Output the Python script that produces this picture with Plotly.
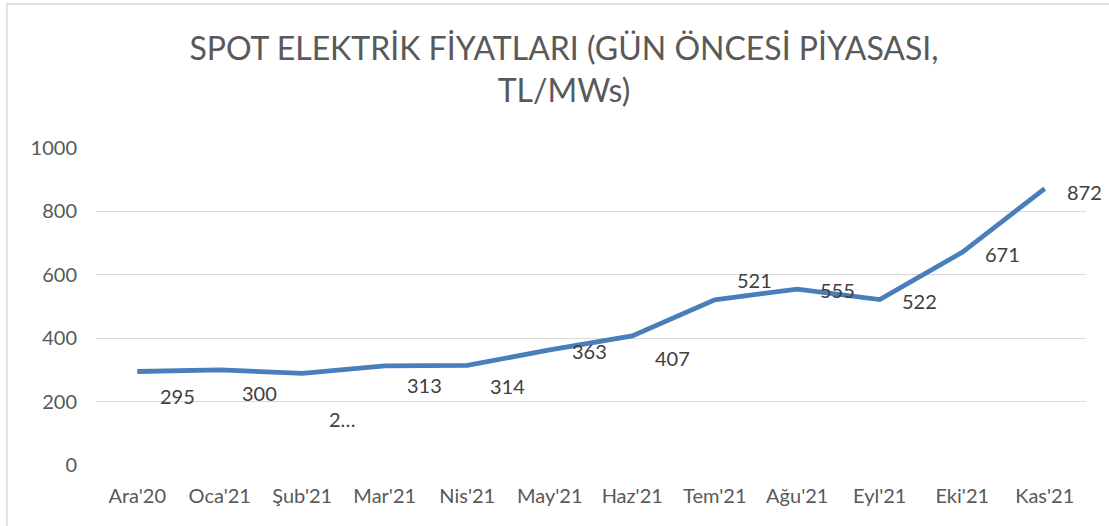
import plotly.graph_objects as go

# ---- data ----
categories = ["Ara'20", "Oca'21", "Şub'21", "Mar'21", "Nis'21", "May'21",
              "Haz'21", "Tem'21", "Ağu'21", "Eyl'21", "Eki'21", "Kas'21"]
prices = [295, 300, 289, 313, 314, 363, 407, 521, 555, 522, 671, 872]
label_texts = ["295", "300", "2…", "313", "314", "363", "407", "521", "555", "522", "671", "872"]
y_ticks = [0, 200, 400, 600, 800, 1000]

# ---- label styling (pixel shifts, Excel-like manual placement) ----
label_dx = 40
label_dy = [-25, -23, -46, -19, -21, -1, -22, 20, -1, -1, -2, -3]

FONT = "Lato, 'Open Sans', sans-serif"
LINE_COLOR = "#4A7EBB"

fig = go.Figure()
fig.add_trace(go.Scatter(
    x=categories, y=prices, mode="lines",
    line=dict(color=LINE_COLOR, width=4.8),
    hoverinfo="x+y", showlegend=False,
))

for cat, val, txt, dy in zip(categories, prices, label_texts, label_dy):
    fig.add_annotation(
        x=cat, y=val, xref="x", yref="y", text=txt, showarrow=False,
        xanchor="center", yanchor="middle", xshift=label_dx, yshift=dy,
        font=dict(family=FONT, size=20, color="#404040"),
    )

# chart frame (cropped on right/bottom like the reference)
fig.add_shape(type="rect", xref="paper", yref="paper",
              x0=-0.09, x1=1.2, y0=-0.5, y1=1.454,
              line=dict(color="#D9D9D9", width=1.5), layer="below")

fig.update_layout(
    width=1109, height=526,
    paper_bgcolor="white", plot_bgcolor="white",
    margin=dict(l=96, r=23, t=148, b=61),
    title=dict(
        text="SPOT ELEKTRİK FİYATLARI (GÜN ÖNCESİ PİYASASI,<br>TL/MWs)",
        x=564 / 1109, xanchor="center",
        y=1 - 60 / 526, yanchor="top", yref="container",
        font=dict(family=FONT, size=32, color="#595959"),
    ),
    xaxis=dict(
        type="category", range=[-0.5, len(categories) - 0.5],
        showgrid=False, zeroline=False, showline=False, ticks="",
        tickfont=dict(family=FONT, size=20, color="#595959"),
        ticklabelstandoff=17, fixedrange=True,
    ),
    yaxis=dict(
        range=[0, 1000], tickvals=y_ticks,
        showgrid=True, gridcolor="#D9D9D9", gridwidth=1.3,
        zeroline=False, showline=False, ticks="",
        tickfont=dict(family=FONT, size=20, color="#595959"),
        ticklabelstandoff=18, fixedrange=True,
    ),
)

fig.write_html("out.html", config={"displayModeBar": False},
               post_script="document.body.style.margin='0';document.body.style.overflow='hidden';")
